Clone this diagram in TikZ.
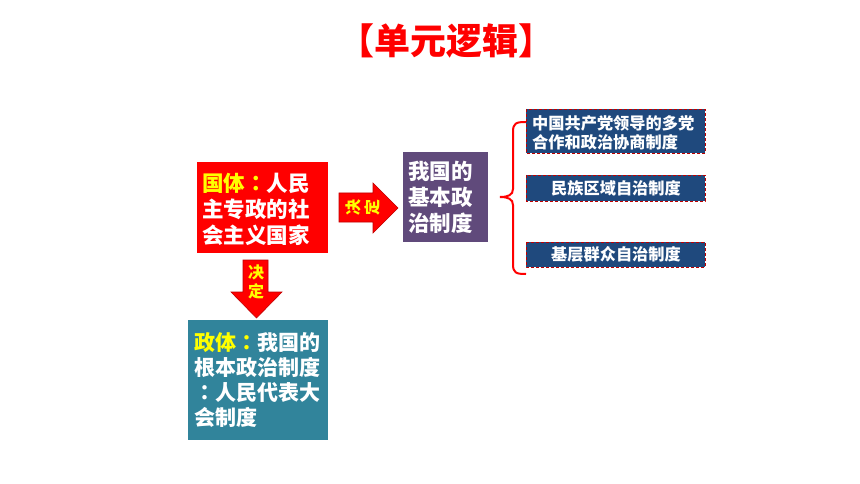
\documentclass[tikz,border=0pt]{standalone}
\usepackage{fontspec}
\setmainfont{Noto Sans CJK SC}
\newfontfamily\tcfont{Noto Sans CJK TC}
\newcommand{\cjkcolon}{{\tcfont\bfseries ：}}
\definecolor{boxred}{HTML}{FF0000}
\definecolor{boxpurple}{HTML}{604A7B}
\definecolor{boxteal}{HTML}{31849B}
\definecolor{boxblue}{HTML}{1F497D}
\definecolor{txtyellow}{HTML}{FFFF00}
\definecolor{arrowedge}{HTML}{C00000}
\begin{document}
\begin{tikzpicture}[x=1pt,y=-1pt,
  bigtext/.style={font=\fontsize{21.5}{26}\selectfont\bfseries, text=white, align=left, inner sep=0pt},
  smalltext/.style={font=\fontsize{16.2}{18.5}\selectfont\bfseries, text=white, inner sep=0pt},
  arrowtext/.style={font=\fontsize{16}{19}\selectfont\bfseries, text=txtyellow, align=center, inner sep=0pt},
  blockarrow/.style={fill=red, draw=arrowedge, line width=0.6pt, line join=miter},
  bluebox/.style={fill=boxblue, draw=red!75!black, densely dashed, line width=0.6pt},
  brace/.style={draw=red, line width=2pt}]
\useasboundingbox (0,0) rectangle (860,484);
\fill[white] (0,0) rectangle (860,484);

% title
\node[font=\fontsize{36}{40}\selectfont\bfseries, text=red, inner sep=0pt] (title) at (446,41) {【单元逻辑】};

% red box
\path[fill=boxred] (197,162) rectangle (328,253);
\coordinate (redbox) at (262.5,207.5);
\node[bigtext, anchor=west] (guoti) at (202,209) {\textcolor{txtyellow}{国体\cjkcolon}人民\\主专政的社\\会主义国家};

% right arrow
\path[blockarrow] (339,193) -- (373,193) -- (373,183) -- (398,208) -- (373,233) -- (373,222) -- (339,222) -- cycle;
\node[arrowtext, rotate=90] (juedingA) at (363,207) {决\\定};

% purple box
\path[fill=boxpurple] (403,152) rectangle (488,242);
\node[bigtext, anchor=west] (zhidu) at (408,197) {我国的\\基本政\\治制度};

% brace
\draw[brace] (526,122) .. controls (516,122) and (513,123) .. (513,132) -- (513,189) .. controls (513,195) and (508,197) .. (500,197) .. controls (508,197) and (513,199) .. (513,205) -- (513,264) .. controls (513,273) and (516,274) .. (526,274);

% blue boxes
\path[bluebox] (526,109) rectangle (705,153);
\node[smalltext, anchor=west, align=left] (b1) at (532,133) {中国共产党领导的多党\\合作和政治协商制度};
\path[bluebox] (526,175) rectangle (705,201);
\node[smalltext] (b2) at (616,188) {民族区域自治制度};
\path[bluebox] (526,242) rectangle (705,267);
\node[smalltext] (b3) at (616,254.5) {基层群众自治制度};

% down arrow
\path[blockarrow] (243,260) -- (268,260) -- (268,292) -- (282,292) -- (256.5,318) -- (231,292) -- (243,292) -- cycle;
\node[arrowtext] (juedingB) at (256,282) {决\\定};

% teal box
\path[fill=boxteal] (188,320) rectangle (328,440);
\node[bigtext, anchor=west, font=\fontsize{21}{25.3}\selectfont\bfseries] (zhengti) at (194,380) {\textcolor{txtyellow}{政体\cjkcolon}我国的\\根本政治制度\\\cjkcolon 人民代表大\\会制度};
\end{tikzpicture}
\end{document}
